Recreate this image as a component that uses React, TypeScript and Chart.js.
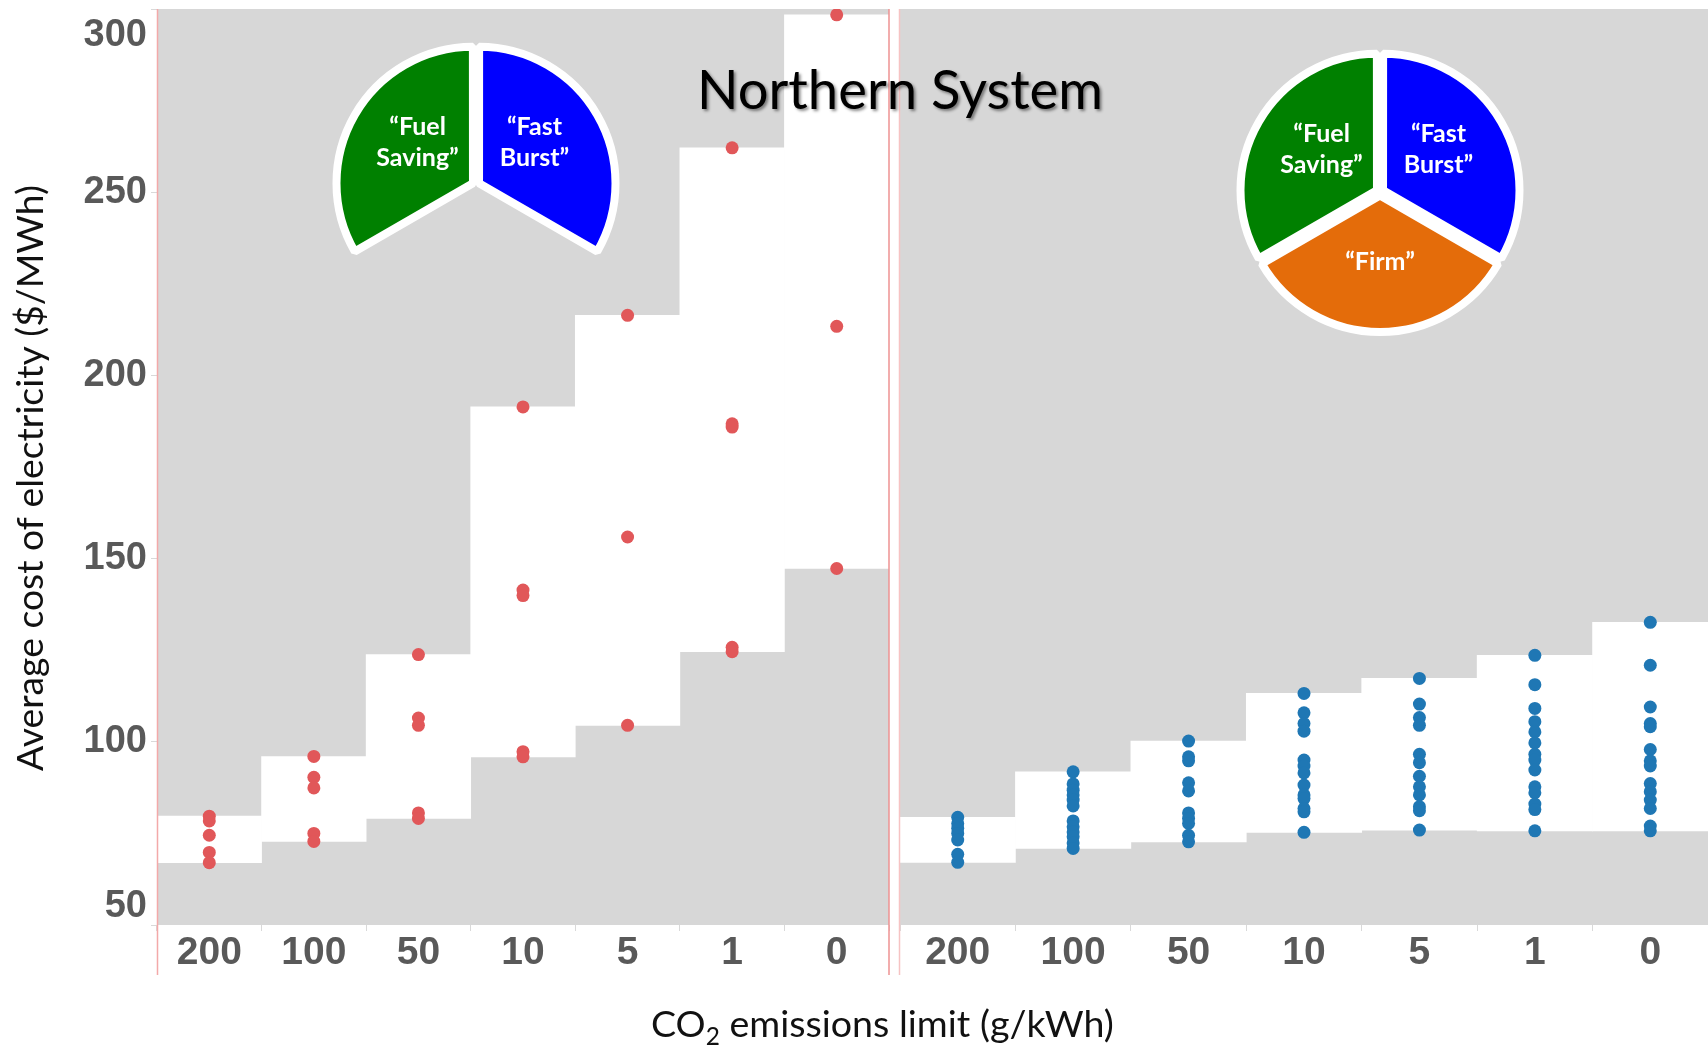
import React, { useEffect, useRef } from 'react';
import { Chart, registerables } from 'chart.js';

Chart.register(...registerables);

// ---------------- data ----------------
const CATEGORIES = ['200', '100', '50', '10', '5', '1', '0'];
const Y_MIN = 50;
const Y_MAX = 300;
const Y_STEP = 50;

// "Fuel Saving" + "Fast Burst" portfolio (red)
const RED_200 = [79.7, 78.4, 74.5, 69.8, 67.0];
const RED_100 = [96.0, 90.3, 87.4, 75.0, 72.8];
const RED_50 = [123.8, 106.5, 104.5, 80.6, 79.1];
const RED_10 = [191.4, 141.4, 139.9, 97.3, 95.9];
const RED_5 = [216.4, 155.9, 104.5];
const RED_1 = [262.1, 186.8, 185.9, 125.8, 124.6];
const RED_0 = [298.4, 213.4, 147.3];
const RED_SERIES = [RED_200, RED_100, RED_50, RED_10, RED_5, RED_1, RED_0];

// "Fuel Saving" + "Fast Burst" + "Firm" portfolio (blue)
const BLUE_200 = [79.4, 77.7, 76.4, 75.0, 73.2, 69.3, 67.1];
const BLUE_100 = [91.8, 88.5, 86.8, 85.5, 84.1, 82.5, 78.4, 76.8, 75.4, 74.1, 72.4, 70.9];
const BLUE_50 = [100.2, 95.9, 94.8, 88.8, 86.6, 80.6, 79.1, 77.7, 74.5, 72.7];
const BLUE_10 = [113.2, 107.9, 105.0, 102.9, 95.0, 93.4, 91.5, 88.2, 85.5, 84.5, 81.8, 80.9, 75.3];
const BLUE_5 = [117.3, 110.3, 106.6, 104.5, 96.6, 94.3, 90.6, 87.7, 85.5, 82.3, 81.2, 75.9];
const BLUE_1 = [123.6, 115.6, 109.1, 105.5, 102.7, 99.7, 96.6, 95.0, 92.3, 87.7, 86.1, 83.0, 81.5, 75.7];
const BLUE_0 = [132.6, 120.9, 109.5, 105.0, 104.1, 97.9, 94.8, 93.4, 88.6, 86.4, 84.1, 81.8, 77.0, 75.7];
const BLUE_SERIES = [BLUE_200, BLUE_100, BLUE_50, BLUE_10, BLUE_5, BLUE_1, BLUE_0];

// resource pies
const PIE_NAMES = ['“Fast Burst”', '“Firm”', '“Fuel Saving”'];
const PIE_SHARES = [1, 1, 1];
const LEFT_PIE_SHOWN = [true, false, true];
const RIGHT_PIE_SHOWN = [true, true, true];

const TITLE = 'Northern System';
const Y_TITLE = 'Average cost of electricity ($/MWh)';
const X_TITLE_PARTS = ['CO', '2', ' emissions limit (g/kWh)'];

// ---------------- style / layout ----------------
const W = 1708;
const H = 1048;
const PLOT_TOP = 9;
const PLOT_BOTTOM = 925;
const LEFT_PLOT_L = 157;
const LEFT_PLOT_R = 889;
const RIGHT_PLOT_L = 900;
const GRAY = '#d7d7d7';
const RED = '#e15759';
const BLUE = '#1f77b4';
const PIE_COLORS = ['#0000ff', '#e46c0a', '#008000'];
const TICK_COLOR = '#595959';
const NUM_FONT = "'Liberation Sans', Arial, sans-serif";
const TEXT_FONT = "Lato, 'Open Sans', sans-serif";

const PIE_L = { cx: 476, cy: 185 };
const PIE_R = { cx: 1380, cy: 192 };
const PIE_BOX = 300;

function fitSize(ctx: any, text: string, weight: string, family: string, target: number) {
  ctx.font = `${weight} 100px ${family}`;
  return (100 * target) / ctx.measureText(text).width;
}

const grayBg = {
  id: 'grayBg',
  beforeDatasetsDraw(chart: any) {
    const { ctx, chartArea: a } = chart;
    ctx.save();
    ctx.fillStyle = GRAY;
    ctx.fillRect(a.left, a.top, a.right - a.left, a.bottom - a.top);
    ctx.restore();
  },
};

function vline(ctx: any, x: number, color: string) {
  ctx.save();
  ctx.strokeStyle = color;
  ctx.lineWidth = 1.5;
  ctx.beginPath();
  ctx.moveTo(x, PLOT_TOP);
  ctx.lineTo(x, 975);
  ctx.stroke();
  ctx.restore();
}

const leftDecor = {
  id: 'leftDecor',
  afterDraw(chart: any) {
    const { ctx, chartArea: a } = chart;
    const y = chart.scales.y;
    vline(ctx, a.left + 0.5, '#f3a9a9');
    vline(ctx, a.right, '#ee9292');
    // y tick labels (end labels kept inside the axis span)
    ctx.save();
    ctx.fillStyle = TICK_COLOR;
    ctx.font = `bold 38px ${NUM_FONT}`;
    ctx.textAlign = 'right';
    const ticks = y.ticks;
    ticks.forEach((t: any, i: number) => {
      const py = y.getPixelForValue(t.value);
      if (i === 0) {
        ctx.textBaseline = 'alphabetic';
        ctx.fillText(String(t.value), a.left - 10, py - 8);
      } else if (i === ticks.length - 1) {
        ctx.textBaseline = 'alphabetic';
        ctx.fillText(String(t.value), a.left - 10, py + 37);
      } else {
        ctx.textBaseline = 'middle';
        ctx.fillText(String(t.value), a.left - 10, py);
      }
    });
    ctx.restore();
    // y axis title
    ctx.save();
    const fs = fitSize(ctx, Y_TITLE, 'normal', TEXT_FONT, 586);
    ctx.font = `normal ${fs}px ${TEXT_FONT}`;
    ctx.fillStyle = '#111';
    ctx.translate(43, (a.top + a.bottom) / 2 + 11);
    ctx.rotate(-Math.PI / 2);
    ctx.textAlign = 'center';
    ctx.textBaseline = 'alphabetic';
    ctx.fillText(Y_TITLE, 0, 0);
    ctx.restore();
  },
};

const rightDecor = {
  id: 'rightDecor',
  afterDraw(chart: any) {
    const { ctx, chartArea: a } = chart;
    vline(ctx, a.left - 0.5, '#f6c3c3');
    // main title
    ctx.save();
    const ts = fitSize(ctx, TITLE, 'normal', TEXT_FONT, 406);
    ctx.font = `normal ${ts}px ${TEXT_FONT}`;
    ctx.fillStyle = '#000';
    ctx.textAlign = 'center';
    ctx.textBaseline = 'alphabetic';
    ctx.shadowColor = 'rgba(0,0,0,0.45)';
    ctx.shadowOffsetX = 2;
    ctx.shadowOffsetY = 2;
    ctx.shadowBlur = 3;
    ctx.fillText(TITLE, 900, 109);
    ctx.restore();
    // x axis title with subscript
    ctx.save();
    ctx.fillStyle = '#111';
    ctx.textAlign = 'left';
    ctx.textBaseline = 'alphabetic';
    ctx.font = `normal 100px ${TEXT_FONT}`;
    const w1 = ctx.measureText(X_TITLE_PARTS[0]).width;
    const w3 = ctx.measureText(X_TITLE_PARTS[2]).width;
    ctx.font = `normal 65px ${TEXT_FONT}`;
    const w2 = ctx.measureText(X_TITLE_PARTS[1]).width;
    const f = (100 * 463) / (w1 + w2 + w3);
    const k = f / 100;
    let x = 651;
    const base = 1037;
    ctx.font = `normal ${f}px ${TEXT_FONT}`;
    ctx.fillText(X_TITLE_PARTS[0], x, base);
    x += w1 * k;
    ctx.font = `normal ${f * 0.65}px ${TEXT_FONT}`;
    ctx.fillText(X_TITLE_PARTS[1], x, base + f * 0.2);
    x += w2 * k;
    ctx.font = `normal ${f}px ${TEXT_FONT}`;
    ctx.fillText(X_TITLE_PARTS[2], x, base);
    ctx.restore();
  },
};

function panelConfig(series: number[][], color: string, radius: number, padding: any, showY: boolean, decor: any) {
  const points = series.flatMap((vals, i) => vals.map((v) => ({ x: CATEGORIES[i], y: v })));
  const bands = series.map((vals) => [Math.min(...vals), Math.max(...vals)]);
  return {
    type: 'bar',
    data: {
      labels: CATEGORIES,
      datasets: [
        {
          type: 'line',
          data: points,
          showLine: false,
          pointRadius: radius,
          pointHoverRadius: radius,
          pointBackgroundColor: color,
          pointBorderColor: color,
          pointBorderWidth: 0,
          order: 1,
        },
        {
          type: 'bar',
          data: bands,
          backgroundColor: '#ffffff',
          borderWidth: 0,
          barPercentage: 1,
          categoryPercentage: 1,
          order: 2,
        },
      ],
    },
    options: {
      responsive: false,
      animation: false,
      devicePixelRatio: 1,
      events: [],
      layout: { padding, autoPadding: false },
      plugins: { legend: { display: false }, tooltip: { enabled: false }, title: { display: false } },
      scales: {
        x: {
          type: 'category',
          offset: true,
          grid: { offset: true, drawOnChartArea: false, drawTicks: true, tickLength: 6, color: '#d9d9d9' },
          border: { display: false },
          ticks: {
            color: TICK_COLOR,
            font: { family: NUM_FONT, size: 39, weight: 'bold' },
            padding: -1,
            maxRotation: 0,
            autoSkip: false,
          },
          afterFit: (s: any) => {
            s.height = H - PLOT_BOTTOM;
          },
        },
        y: {
          type: 'linear',
          min: Y_MIN,
          max: Y_MAX,
          display: showY,
          ticks: { display: false, stepSize: Y_STEP },
          grid: { drawOnChartArea: false, drawTicks: true, tickLength: 6, color: '#d9d9d9' },
          border: { display: false },
          afterFit: (s: any) => {
            s.width = showY ? LEFT_PLOT_L : 0;
          },
        },
      },
    },
    plugins: [grayBg, decor],
  };
}

const pieLabels = {
  id: 'pieLabels',
  afterDatasetsDraw(chart: any, _args: any, opts: any) {
    const shown: boolean[] = opts.shown;
    const { ctx } = chart;
    const meta = chart.getDatasetMeta(0);
    ctx.save();
    ctx.fillStyle = '#ffffff';
    ctx.font = `bold 25px ${TEXT_FONT}`;
    ctx.textAlign = 'center';
    ctx.textBaseline = 'middle';
    meta.data.forEach((arc: any, i: number) => {
      if (!shown[i]) return;
      const p = arc.getCenterPoint();
      const px = arc.x + (p.x - arc.x) * 0.9;
      const lines = PIE_NAMES[i].split(' ');
      const lh = 31;
      const y0 = p.y - 5 - ((lines.length - 1) * lh) / 2;
      lines.forEach((ln, j) => ctx.fillText(ln, px, y0 + j * lh));
    });
    ctx.restore();
  },
};

function pieConfig(shown: boolean[]) {
  return {
    type: 'pie',
    data: {
      labels: PIE_NAMES,
      datasets: [
        {
          data: PIE_SHARES,
          backgroundColor: PIE_COLORS.map((c, i) => (shown[i] ? c : 'rgba(0,0,0,0)')),
          borderColor: shown.map((s) => (s ? '#ffffff' : 'rgba(0,0,0,0)')),
          borderWidth: shown.map((s) => (s ? 8 : 0)),
          offset: 14,
          radius: 136,
        },
      ],
    },
    options: {
      responsive: false,
      animation: false,
      devicePixelRatio: 1,
      events: [],
      radius: 136,
      layout: { padding: 0 },
      plugins: { legend: { display: false }, tooltip: { enabled: false }, pieLabels: { shown } },
    },
    plugins: [pieLabels],
  };
}

export default function App() {
  const leftRef = useRef<HTMLCanvasElement>(null);
  const rightRef = useRef<HTMLCanvasElement>(null);
  const pieLRef = useRef<HTMLCanvasElement>(null);
  const pieRRef = useRef<HTMLCanvasElement>(null);

  useEffect(() => {
    document.body.style.margin = '0';
    const charts: Chart[] = [];
    charts.push(
      new Chart(
        leftRef.current as any,
        panelConfig(RED_SERIES, RED, 6.5, { left: 0, right: W - LEFT_PLOT_R, top: PLOT_TOP, bottom: 0 }, true, leftDecor) as any
      )
    );
    charts.push(
      new Chart(
        rightRef.current as any,
        panelConfig(BLUE_SERIES, BLUE, 6.5, { left: RIGHT_PLOT_L, right: 0, top: PLOT_TOP, bottom: 0 }, false, rightDecor) as any
      )
    );
    charts.push(new Chart(pieLRef.current as any, pieConfig(LEFT_PIE_SHOWN) as any));
    charts.push(new Chart(pieRRef.current as any, pieConfig(RIGHT_PIE_SHOWN) as any));
    return () => charts.forEach((c) => c.destroy());
  }, []);

  const abs = (l: number, t: number): React.CSSProperties => ({ position: 'absolute', left: l, top: t });

  return (
    <div style={{ position: 'absolute', left: 0, top: 0, width: W, height: H, background: '#ffffff', overflow: 'hidden' }}>
      <canvas ref={leftRef} width={W} height={H} style={abs(0, 0)} />
      <canvas ref={rightRef} width={W} height={H} style={abs(0, 0)} />
      <canvas ref={pieLRef} width={PIE_BOX} height={PIE_BOX} style={abs(PIE_L.cx - PIE_BOX / 2, PIE_L.cy - PIE_BOX / 2)} />
      <canvas ref={pieRRef} width={PIE_BOX} height={PIE_BOX} style={abs(PIE_R.cx - PIE_BOX / 2, PIE_R.cy - PIE_BOX / 2)} />
    </div>
  );
}
